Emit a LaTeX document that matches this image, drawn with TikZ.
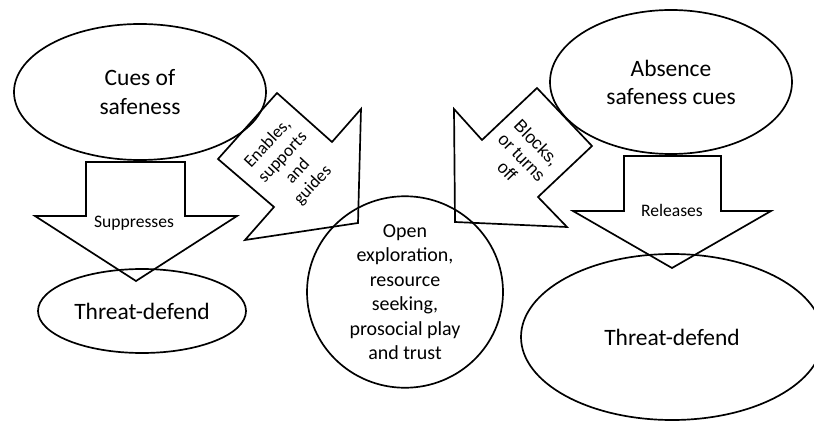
\documentclass[tikz,border=0pt]{standalone}
\usepackage{fontspec}
\setmainfont{Carlito}
\newfontfamily\arialfont{Liberation Sans}
\usetikzlibrary{shapes.geometric}
\begin{document}
\begin{tikzpicture}[
    bubble/.style={ellipse, draw=black, very thick, inner sep=0pt, align=center},
    blockarrow/.style={draw=black, very thick, line join=miter},
    bigtext/.style={font=\fontsize{16.7}{20}\selectfont},
    midtext/.style={font=\fontsize{14.2}{17.4}\selectfont},
    smalltext/.style={font=\fontsize{12.5}{14.6}\selectfont, align=center}]
    \useasboundingbox (0,0) rectangle (20.35,10.5);

        \node[bubble, bigtext, minimum width=6.3cm, minimum height=3.4cm] (cues) at (3.5,8.2) {Cues of\\safeness};
        \node[bubble, bigtext, minimum width=6.05cm, minimum height=3.6cm] (absence) at (16.775,8.45) {Absence\\safeness cues};
        \node[bubble, bigtext, minimum width=5.2cm, minimum height=2.1cm] (threatL) at (3.55,2.725) {Threat-defend};
        \node[bubble, bigtext, minimum width=7.55cm, minimum height=4.15cm] (threatR) at (16.8,2.075) {Threat-defend};
        \node[bubble, midtext, minimum width=4.9cm, minimum height=4.25cm] (open) at (10.125,3.2) {Open\\exploration,\\resource\\seeking,\\prosocial play\\and trust};

        \draw[blockarrow] (2.15,6.45) -- (4.625,6.45) -- (4.625,5.1) -- (5.925,5.1) -- (3.4,3.475) -- (0.875,5.1) -- (2.15,5.1) -- cycle;
        \draw[blockarrow] (15.6,6.6) -- (18.025,6.6) -- (18.025,5.225) -- (19.275,5.225) -- (16.8,3.8) -- (14.325,5.225) -- (15.6,5.225) -- cycle;
        \draw[blockarrow] (6.925,8.175) -- (8.3,6.95) -- (9.025,7.775) -- (8.95,4.925) -- (6.125,4.5) -- (6.85,5.325) -- (5.45,6.525) -- cycle;
        \draw[blockarrow] (11.375,4.95) -- (11.35,7.775) -- (12.05,7.0) -- (13.425,8.3) -- (14.8,6.85) -- (13.45,5.575) -- (14.175,4.825) -- cycle;

        \node[smalltext] (suppresses) at (3.35,4.925) {Suppresses};
        \node[smalltext] (releases) at (16.8,5.25) {Releases};
        \node[smalltext, rotate=47] (enables) at (7.2625,6.3875) {Enables,\\supports\\and\\guides};
        \node[smalltext, font=\arialfont\fontsize{12.4}{14.6}\selectfont, rotate=-46] (blocks) at (13.05,6.575) {Blocks,\\or turns\\off};
    \end{tikzpicture}
\end{document}
